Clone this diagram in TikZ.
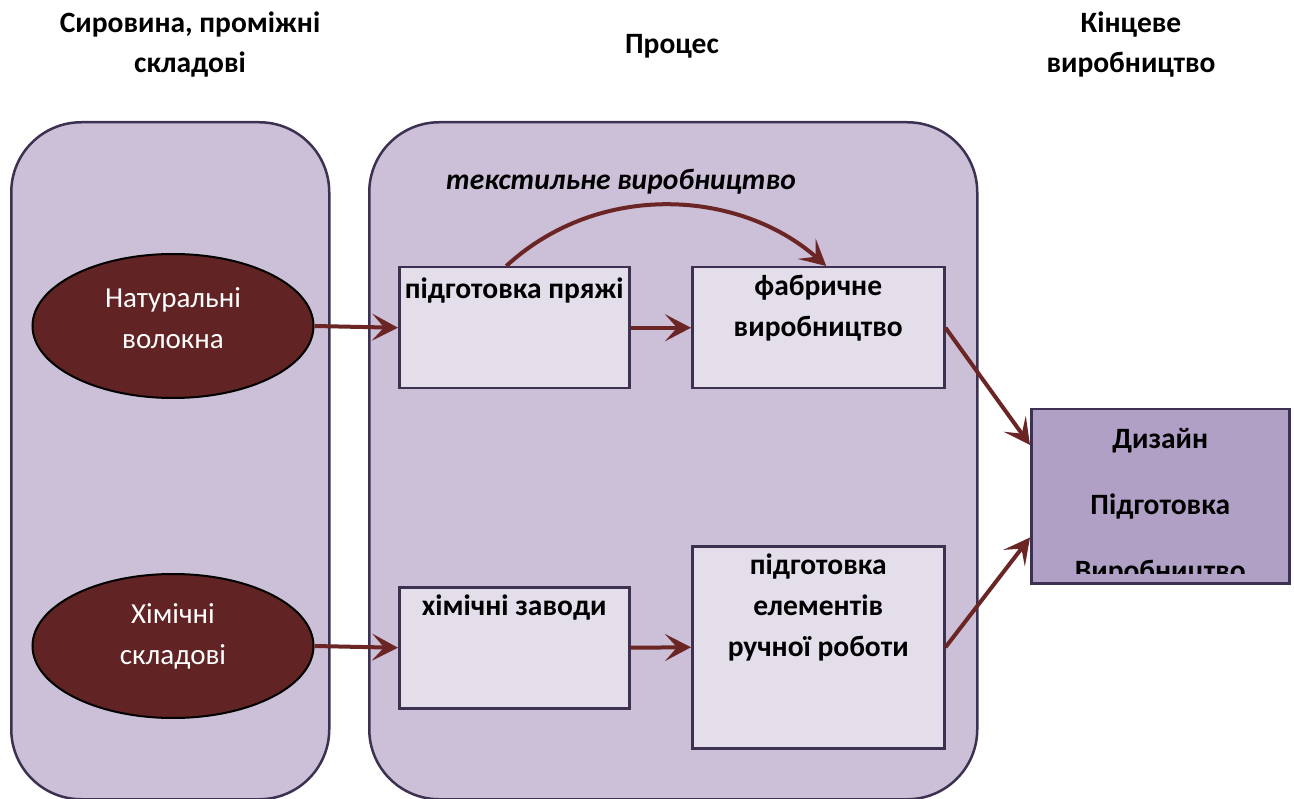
\documentclass[tikz,border=0pt]{standalone}
\usepackage{fontspec}
\setmainfont{Carlito}
\usetikzlibrary{arrows.meta,shapes.geometric,calc}
\definecolor{panel}{HTML}{CCBFD8}
\definecolor{edge}{HTML}{3D3152}
\definecolor{innerfill}{HTML}{E3DEEA}
\definecolor{finalfill}{HTML}{B0A0C6}
\definecolor{wine}{HTML}{612323}
\definecolor{arr}{HTML}{6B2525}
\begin{document}
\begin{tikzpicture}[x=1pt,y=-1pt,
  panelbox/.style={draw=edge, line width=2.5pt, fill=panel, rounded corners=70pt, rectangle, inner sep=0pt, anchor=north west},
  procbox/.style={draw=edge, line width=2.5pt, fill=innerfill, rectangle, inner sep=0pt, anchor=north west},
  finbox/.style={draw=edge, line width=2.5pt, fill=finalfill, rectangle, inner sep=0pt, anchor=north west},
  ell/.style={ellipse, draw=black, line width=2pt, fill=wine, inner sep=0pt, minimum width=281pt, minimum height=144pt},
  elltext/.style={text=white, font=\fontsize{29}{41}\selectfont, align=center, inner sep=0pt},
  hdr/.style={font=\bfseries\fontsize{29.5}{40}\selectfont, align=center, inner sep=0pt},
  boxtext/.style={font=\bfseries\fontsize{29.5}{41}\selectfont, align=center, inner sep=0pt},
  fintext/.style={font=\bfseries\fontsize{29.5}{66}\selectfont, align=center, inner sep=0pt},
  itlabel/.style={font=\bfseries\itshape\fontsize{29.5}{30}\selectfont, inner sep=0pt},
  flow/.style={draw=arr, line width=4pt, -{Stealth[length=26pt,width=27pt,inset=12pt]}}
]
\useasboundingbox (0,0) rectangle (1294,799);

% headers
\node[hdr] (h1) at (190,45) {Сировина, проміжні\\складові};
\node[hdr] (h2) at (672,46) {Процес};
\node[hdr] (h3) at (1131,45) {Кінцеве\\виробництво};

% panels
\node[panelbox, minimum width=318pt, minimum height=677pt] (raw) at (10,121) {};
\node[panelbox, minimum width=608pt, minimum height=677pt] (proc) at (368,121) {};

% ellipses
\node[ell] (nat) at (173,326) {};
\node[elltext] (natt) at ($(nat.center)+(0,-8)$) {Натуральні\\волокна};
\node[ell] (chm) at (173,646) {};
\node[elltext] (chmt) at ($(chm.center)+(0,-10)$) {Хімічні\\складові};

% process boxes
\node[procbox, minimum width=230pt, minimum height=121pt] (pya) at (398,266) {};
\node[procbox, minimum width=252pt, minimum height=121pt] (fab) at (691,266) {};
\node[procbox, minimum width=230pt, minimum height=121pt] (chem) at (398,586) {};
\node[procbox, minimum width=252pt, minimum height=202pt] (hand) at (691,545) {};

\node[boxtext] (pyat) at ($(pya.north)+(0,25)$) {підготовка пряжі};
\node[boxtext] (fabt) at ($(fab.north)+(0,42)$) {фабричне\\виробництво};
\node[boxtext] (chemt) at ($(chem.north)+(0,22)$) {хімічні заводи};
\node[boxtext] (handt) at ($(hand.north)+(0,62)$) {підготовка\\елементів\\ручної роботи};

% label
\node[itlabel] (tex) at (621,182) {текстильне виробництво};

% final box
\node[finbox, minimum width=258pt, minimum height=174pt] (fin) at (1030,408) {};
\begin{scope}
  \clip ($(fin.north west)+(2,2)$) rectangle ($(fin.south east)+(-2,-11)$);
  \node[fintext] (fint) at ($(fin.north)+(0,99)$) {Дизайн\\Підготовка\\Виробництво};
\end{scope}

% connectors
\draw[flow] (nat.east) -- (pya.west);
\draw[flow] (pya.east) -- (fab.west);
\draw[flow] (chm.east) -- (chem.west);
\draw[flow] (chem.east) -- (hand.west);
\draw[flow] ([xshift=-8pt]pya.north) .. controls (600,180) and (740,190) .. ([xshift=8pt]fab.north);
\draw[flow] (fab.east) -- ($(fin.north west)+(0,37)$);
\draw[flow] (hand.east) -- ($(fin.south west)+(0,-47)$);
\end{tikzpicture}
\end{document}
